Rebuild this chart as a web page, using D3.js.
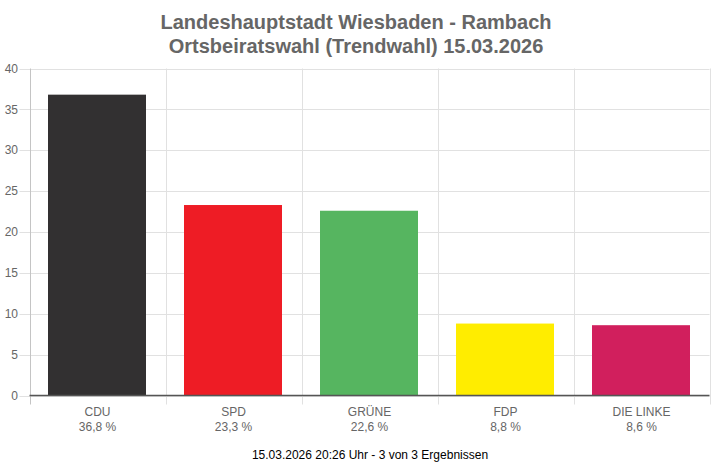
<!DOCTYPE html>
<html>
<head>
<meta charset="utf-8">
<script src="https://cdn.jsdelivr.net/npm/d3@7"></script>
<style>
	body { margin: 0; background: #fff; }
	svg { display: block; font-family: Arial, "Liberation Sans", sans-serif; }
</style>
</head>
<body>
<svg width="712" height="468"></svg>
<script>
// data........................................................................

var titleLines = ["Landeshauptstadt Wiesbaden - Rambach",
	"Ortsbeiratswahl (Trendwahl) 15.03.2026"];
var parties = ["CDU", "SPD", "GRÜNE", "FDP", "DIE LINKE"];
var shares = [36.8, 23.3, 22.6, 8.8, 8.6];
var colors = ["#323031", "#ee1c25", "#56b560", "#ffed00", "#d11f5d"];
var yTicks = [0, 5, 10, 15, 20, 25, 30, 35, 40];
var footer = "15.03.2026 20:26 Uhr - 3 von 3 Ergebnissen";

// layout......................................................................

var svg = d3.select("svg"),
	plotLeft = 29.5, plotRight = 709.5, plotTop = 68.5, plotBottom = 395.5;

var x = d3.scaleBand()
	.domain(parties)
	.range([plotLeft, plotRight])
	.paddingInner(0.28)
	.paddingOuter(0.14);

var band = d3.scaleBand().domain(parties).range([plotLeft, plotRight]);

var y = d3.scaleLinear()
	.domain([0, 40])
	.range([plotBottom, plotTop]);

function fmt(v) { return d3.format(".1f")(v).replace(".", ",") + " %"; }

// title
svg.append("g").selectAll("text")
	.data(titleLines)
	.enter().append("text")
		.attr("x", 356)
		.attr("y", function(d, i) { return 29 + i * 24; })
		.attr("text-anchor", "middle")
		.attr("font-size", 20)
		.attr("font-weight", "bold")
		.attr("fill", "#666")
		.text(function(d) { return d; });

// horizontal grid + y labels
var grid = svg.append("g");
grid.selectAll("line.h")
	.data(yTicks)
	.enter().append("line")
		.attr("class", "h")
		.attr("x1", plotLeft - 10).attr("x2", plotRight)
		.attr("y1", function(d) { return Math.round(y(d)) + 0.5; })
		.attr("y2", function(d) { return Math.round(y(d)) + 0.5; })
		.attr("stroke", "#e1e1e1");

// vertical grid at category boundaries
var bounds = parties.map(function(p) { return band(p); }).concat([plotRight]);
grid.selectAll("line.v")
	.data(bounds)
	.enter().append("line")
		.attr("class", "v")
		.attr("x1", function(d) { return Math.round(d) + 0.5; })
		.attr("x2", function(d) { return Math.round(d) + 0.5; })
		.attr("y1", plotTop).attr("y2", plotBottom + 9)
		.attr("stroke", function(d, i) { return i == 0 ? "#c4c4c4" : "#e1e1e1"; });

grid.selectAll("text")
	.data(yTicks)
	.enter().append("text")
		.attr("x", 18)
		.attr("y", function(d) { return y(d); })
		.attr("dy", "0.35em")
		.attr("text-anchor", "end")
		.attr("font-size", 12)
		.attr("fill", "#666")
		.text(function(d) { return d; });

// bars
svg.append("g").selectAll("rect")
	.data(shares)
	.enter().append("rect")
		.attr("x", function(d, i) { return Math.floor(x(parties[i])); })
		.attr("width", Math.round(x.bandwidth()))
		.attr("y", function(d) { return y(d); })
		.attr("height", function(d) { return plotBottom - y(d); })
		.attr("fill", function(d, i) { return colors[i]; });

// zero line
svg.append("line")
	.attr("x1", plotLeft).attr("x2", plotRight)
	.attr("y1", plotBottom).attr("y2", plotBottom)
	.attr("stroke", "#555")
	.attr("stroke-width", 1.5);

// category labels
var cat = svg.append("g").selectAll("g")
	.data(parties)
	.enter().append("g")
		.attr("transform", function(d) {
			return "translate(" + (band(d) + band.bandwidth() / 2) + ",0)"; });
cat.append("text")
	.attr("y", 416)
	.attr("text-anchor", "middle")
	.attr("font-size", 12)
	.attr("fill", "#666")
	.text(function(d) { return d; });
cat.append("text")
	.attr("y", 431)
	.attr("text-anchor", "middle")
	.attr("font-size", 12)
	.attr("fill", "#666")
	.text(function(d, i) { return fmt(shares[i]); });

// footer
svg.append("text")
	.attr("x", 370)
	.attr("y", 459)
	.attr("text-anchor", "middle")
	.attr("font-size", 12)
	.attr("fill", "#000")
	.text(footer);
</script>
</body>
</html>
